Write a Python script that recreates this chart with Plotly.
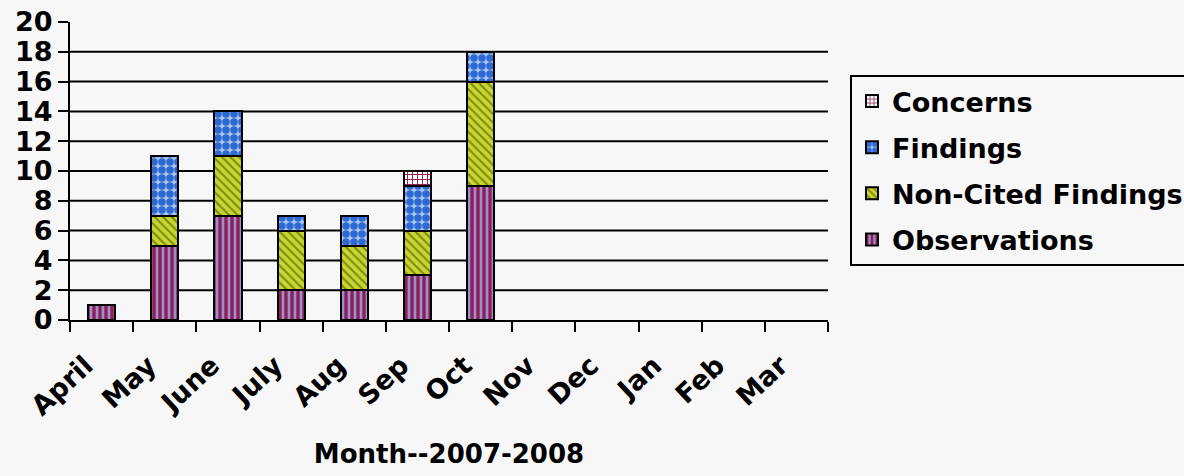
import plotly.graph_objects as go

# Monthly counts, fiscal year 2007-2008
months = ["April", "May", "June", "July", "Aug", "Sep", "Oct",
          "Nov", "Dec", "Jan", "Feb", "Mar"]
observations = [1, 5, 7, 2, 2, 3, 9, None, None, None, None, None]
non_cited_findings = [0, 2, 4, 4, 3, 3, 7, None, None, None, None, None]
findings = [0, 4, 3, 1, 2, 3, 2, None, None, None, None, None]
concerns = [0, 0, 0, 0, 0, 1, 0, None, None, None, None, None]
y_ticks = list(range(0, 21, 2))

FONT = "DejaVu Sans"
BG = "#f7f7f7"

# (name, values, fill pattern, legend position from the top)
series = [
    ("Observations", observations,
     dict(shape="|", bgcolor="#8d1e4e", fgcolor="#9a8fd4", size=6, solidity=0.45, fillmode="replace"), 4),
    ("Non-Cited Findings", non_cited_findings,
     dict(shape="\\", bgcolor="#c9d62c", fgcolor="#7b8a1c", size=6, solidity=0.35, fillmode="replace"), 3),
    ("Findings", findings,
     dict(shape=".", bgcolor="#a8c8f2", fgcolor="#2f6ad4", size=8, solidity=0.7, fillmode="replace"), 2),
    ("Concerns", concerns,
     dict(shape="+", bgcolor="#ffffff", fgcolor="#8d1e4e", size=5, solidity=0.35, fillmode="replace"), 1),
]

fig = go.Figure()
for name, vals, pat, rank in series:
    fig.add_trace(go.Bar(
        x=months, y=vals, name=name, legendgroup=name, legendrank=rank,
        marker=dict(color=pat["bgcolor"], pattern=pat,
                    line=dict(color="black", width=2)),
    ))

# horizontal gridlines between the axis ends
for v in y_ticks[1:-1]:
    fig.add_shape(type="line", xref="paper", yref="y", x0=0, x1=1, y0=v, y1=v,
                  line=dict(color="black", width=2), layer="below")

fig.update_layout(
    width=1184, height=476,
    barmode="stack", bargap=0.57,
    paper_bgcolor=BG, plot_bgcolor=BG,
    margin=dict(l=70, r=356, t=22, b=156, autoexpand=False),
    font=dict(family=FONT, color="black"),
    showlegend=True,
    legend=dict(
        x=1.029, y=0.822, xanchor="left", yanchor="top",
        traceorder="grouped", tracegroupgap=8,
        bgcolor=BG, bordercolor="black", borderwidth=2,
        font=dict(family=FONT, size=27, weight="bold", color="black"),
    ),
    xaxis=dict(
        type="category", range=[-0.5, 11.5],
        showline=True, linecolor="black", linewidth=2,
        tickson="boundaries", ticks="outside", ticklen=10, tickwidth=2, tickcolor="black",
        tickangle=-43, ticklabelshift=-16, ticklabelstandoff=17,
        tickfont=dict(family=FONT, size=27, weight="bold"),
        showgrid=False,
        title=dict(text="Month--2007-2008", standoff=24,
                   font=dict(family=FONT, size=26, weight="bold")),
    ),
    yaxis=dict(
        range=[0, 20], tickvals=y_ticks,
        showline=True, linecolor="black", linewidth=2,
        ticks="outside", ticklen=10, tickwidth=2, tickcolor="black",
        tickfont=dict(family=FONT, size=27, weight="bold"),
        showgrid=False, zeroline=False,
    ),
)

fig.write_html("out.html")
